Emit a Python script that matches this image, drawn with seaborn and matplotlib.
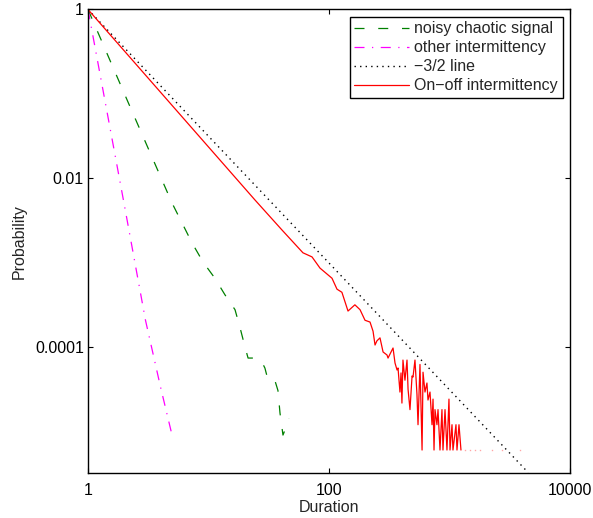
import numpy as np
import pandas as pd
import matplotlib
matplotlib.use("Agg")
import matplotlib.pyplot as plt
import seaborn as sns

# ---------------- data ----------------
noisy_dur = [1, 2.15, 4.98, 7.3, 9.0, 11.3, 13.7, 16.6, 18.3, 20.1, 21.3, 24.3,
             27.8, 29.4, 31.2, 35.7, 37.7, 39.2, 41.5, 44.8, 46.5]
noisy_prob = [1, 0.080, 5.13e-3, 1.73e-3, 1.03e-3, 6.6e-4, 4.2e-4, 2.8e-4, 1.7e-4,
              1.01e-4, 7.5e-5, 7.5e-5, 6.7e-5, 5.7e-5, 4.1e-5, 4.0e-5, 3.1e-5,
              1.68e-5, 9.2e-6, 1.21e-5, 1.45e-5]

other_dur = [1, 2, 3, 4, 5]
other_prob = [1, 4.9e-3, 2.1e-4, 3.4e-5, 9.0e-6]

ref_dur = [1, 4500]
ref_prob = [1, 3.31e-6]

onoff_dur = [1, 24.3, 40.7, 60.8, 72.3, 84.2, 105.9, 116.5, 128, 143.8, 164, 181,
             199, 219, 232, 241, 250, 265, 281, 303, 309, 333, 340, 353, 367, 374,
             388, 396, 403, 411, 427, 444, 453, 470, 489, 498, 517, 537, 548, 569,
             592, 603, 626, 650, 663, 689, 716, 730, 744, 758, 787, 803, 834, 866,
             883, 918, 953, 990, 1010, 1049, 1069, 1132, 1154, 1199, 1245]
onoff_prob = [1, 5.57e-3, 2.46e-3, 1.32e-3, 1.18e-3, 8.7e-4, 6.6e-4, 4.9e-4, 4.5e-4,
              2.7e-4, 3.2e-4, 2.8e-4, 2.1e-4, 2.0e-4, 1.56e-4, 1.07e-4, 1.2e-4,
              1.3e-4, 8.85e-5, 8.15e-5, 7.5e-5, 9.3e-5, 9.86e-5, 6.56e-5, 5.42e-5,
              5.72e-5, 2.97e-5, 5.0e-5, 2.2e-5, 7.1e-5, 4.1e-5, 7.1e-5, 3.2e-5,
              1.84e-5, 4.6e-5, 4.47e-5, 7.1e-5, 2.8e-5, 1.22e-5, 6.3e-5, 6.12e-6,
              5.1e-5, 2.97e-5, 3.8e-5, 2.39e-5, 2.97e-5, 1.22e-5, 2.45e-5, 6.12e-6,
              1.84e-5, 1.22e-5, 1.84e-5, 6.12e-6, 1.84e-5, 6.12e-6, 1.84e-5, 6.12e-6,
              2.45e-5, 6.12e-6, 1.22e-5, 6.12e-6, 1.22e-5, 6.12e-6, 1.22e-5, 6.12e-6]

tail_dur = [1345, 1479, 1628, 1791, 2254, 2728, 3846]
tail_prob = [6.12e-6] * 7

x_ticks = [1, 100, 10000]
x_tick_labels = ["1", "100", "10000"]
y_ticks = [1, 1e-2, 1e-4]
y_tick_labels = ["1", "0.01", "0.0001"]

labels = ["noisy chaotic signal", "other intermittency", "\u22123/2 line",
          "On\u2212off intermittency"]

# ---------------- style ----------------
sns.set_style("white")
plt.rcParams["font.family"] = ["Liberation Sans", "DejaVu Sans"]
plt.rcParams["font.size"] = 11.5

fig = plt.figure(figsize=(5.93, 5.18), dpi=100)
ax = fig.add_axes([0.1484, 0.0869, 0.8128, 0.8948])

df_noisy = pd.DataFrame({"d": noisy_dur, "p": noisy_prob})
df_other = pd.DataFrame({"d": other_dur, "p": other_prob})
df_ref = pd.DataFrame({"d": ref_dur, "p": ref_prob})
df_onoff = pd.DataFrame({"d": onoff_dur, "p": onoff_prob})

sns.lineplot(data=df_noisy, x="d", y="p", ax=ax, color="#008000", lw=0.9,
             linestyle=(0, (8, 11)), estimator=None, sort=False, label=labels[0])
sns.lineplot(data=df_other, x="d", y="p", ax=ax, color="#ff00ff", lw=0.9,
             linestyle=(0, (8, 6, 1, 6)), estimator=None, sort=False, label=labels[1])
sns.lineplot(data=df_ref, x="d", y="p", ax=ax, color="black", lw=1.0,
             linestyle=(0, (1, 3)), estimator=None, sort=False, label=labels[2])
sns.lineplot(data=df_onoff, x="d", y="p", ax=ax, color="#ff0000", lw=0.9,
             linestyle="-", estimator=None, sort=False, label=labels[3])
ax.plot(tail_dur, tail_prob, linestyle="none", marker="s", markersize=1.0,
        color="#ff0000", alpha=0.35, markeredgewidth=0)

ax.set_xscale("log")
ax.set_yscale("log")
ax.set_xlim(1, 10000)
ax.set_ylim(10 ** -5.485, 1)
ax.set_xticks(x_ticks)
ax.set_xticklabels(x_tick_labels)
ax.set_yticks(y_ticks)
ax.set_yticklabels(y_tick_labels)
ax.minorticks_off()
ax.tick_params(axis="both", which="both", direction="in", length=3.5, width=0.8,
               top=True, right=True, bottom=True, left=True, colors="black",
               labelsize=11.5)
ax.tick_params(axis="x", pad=7)
ax.tick_params(axis="y", pad=3)
for s in ax.spines.values():
    s.set_visible(True)
    s.set_color("black")
    s.set_linewidth(1.0)

ax.set_xlabel("Duration", fontsize=11.5, labelpad=2)
ax.set_ylabel("Probability", fontsize=11.5, labelpad=6)

leg = ax.legend(loc="upper right", frameon=True, fancybox=False, fontsize=11.5,
                handlelength=3.4, handletextpad=0.35, labelspacing=0.25,
                borderpad=0.3, borderaxespad=0.45, framealpha=1)
leg.get_frame().set_edgecolor("black")
leg.get_frame().set_linewidth(1.0)

fig.savefig("out.png", dpi=100)
